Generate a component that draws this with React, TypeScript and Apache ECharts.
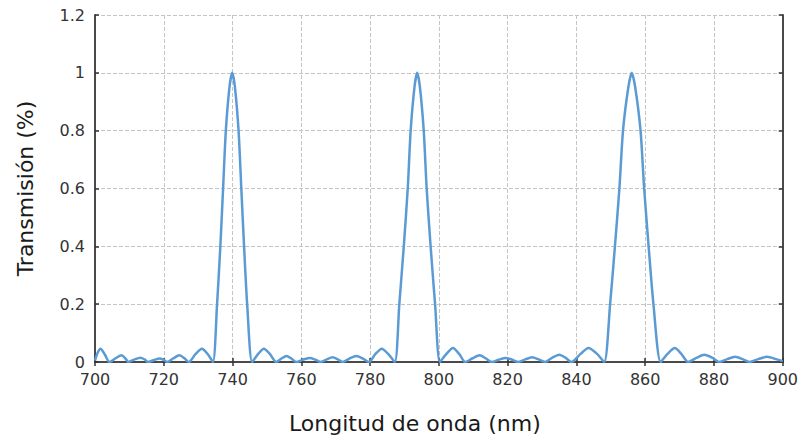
import React, { useEffect, useRef } from "react";
import * as echarts from "echarts";

const wavelength: number[] = [
  700, 700.7, 701.6, 702.9, 704.2, 706.0, 707.7, 708.8, 709.7, 711.5, 713.2, 714.4, 715.5,
  717.2, 718.8, 720.0, 721.0, 722.8, 724.6, 726.0, 727.3, 729.2, 731.1, 732.8, 734.3,
  735.5, 736.45, 737.25, 738.05, 739.1, 739.9, 740.7, 741.75, 742.55, 743.35, 744.25, 745.7,
  747.4, 749.1, 750.9, 752.7, 754.2, 755.7, 757.1, 758.5, 760.5, 762.5, 764.1, 765.7,
  767.4, 769.1, 770.6, 772.0, 774.0, 776.0, 777.9, 779.7, 781.5, 783.4, 785.3, 787.2,
  788.5, 789.8, 790.95, 791.8, 792.9, 793.7, 794.5, 795.6, 796.45, 797.6, 798.9, 800.3,
  802.2, 804.1, 805.9, 807.7, 809.8, 811.9, 813.6, 815.4, 817.4, 819.5, 821.3, 823.2,
  825.1, 827.1, 829.0, 830.9, 833.0, 835.0, 836.8, 838.6, 841.2, 843.5, 846.0, 848.1,
  849.8, 851.2, 852.5, 853.55, 855.1, 856.1, 857.1, 858.65, 859.7, 861.0, 862.4, 864.5,
  866.5, 868.6, 870.5, 872.5, 875.0, 877.2, 879.5, 881.6, 883.9, 886.2, 888.3, 890.3,
  892.9, 895.5, 898.0, 900,
];

const transmission: number[] = [
  0.005, 0.03, 0.046, 0.025, 0, 0.013, 0.023, 0.013, 0, 0.009, 0.015, 0.009, 0,
  0.007, 0.012, 0.007, 0, 0.013, 0.023, 0.013, 0, 0.027, 0.046, 0.027, 0,
  0.2, 0.4, 0.6, 0.8, 0.95, 1.0, 0.95, 0.8, 0.6, 0.4, 0.2, 0,
  0.027, 0.046, 0.027, 0, 0.012, 0.021, 0.012, 0, 0.008, 0.014, 0.008, 0,
  0.009, 0.016, 0.009, 0, 0.012, 0.021, 0.012, 0, 0.027, 0.046, 0.027, 0,
  0.2, 0.4, 0.6, 0.8, 0.95, 1.0, 0.95, 0.8, 0.6, 0.4, 0.2, 0,
  0.028, 0.048, 0.028, 0, 0.013, 0.023, 0.013, 0, 0.008, 0.014, 0.008, 0,
  0.009, 0.016, 0.009, 0, 0.015, 0.025, 0.015, 0, 0.028, 0.048, 0.028, 0,
  0.2, 0.4, 0.6, 0.8, 0.95, 1.0, 0.95, 0.8, 0.6, 0.4, 0.2, 0,
  0.028, 0.048, 0.028, 0, 0.015, 0.025, 0.015, 0, 0.01, 0.018, 0.01, 0,
  0.01, 0.018, 0.01, 0.003,
];

const xTitle = "Longitud de onda (nm)";
const yTitle = "Transmisión (%)";

const FONT = "'DejaVu Sans', Verdana, sans-serif";
const AXIS_COLOR = "#4a4a4a";
const GRID_LINE = { show: true, lineStyle: { type: "dashed", color: "#c4c4c4", width: 1 } };

export default function App() {
  const ref = useRef<HTMLDivElement>(null);
  useEffect(() => {
    document.body.style.margin = "0";
    if (!ref.current) return;
    const chart = echarts.init(ref.current, undefined, { renderer: "svg" });
    const data = wavelength.map((w, i) => [w, transmission[i]]);
    const tick = { show: true, inside: true, length: 4, lineStyle: { color: "#333333", width: 1.5 } };
    chart.setOption({
      animation: false,
      backgroundColor: "#ffffff",
      grid: {
        left: 95,
        right: 15,
        top: 15,
        bottom: 77,
        show: false,
      },
      xAxis: [
        {
          type: "value",
          min: 700,
          max: 900,
          interval: 20,
          position: "bottom",
          name: xTitle,
          nameLocation: "middle",
          nameGap: 50,
          nameTextStyle: { fontSize: 22, color: "#1a1a1a", fontFamily: FONT, padding: [0, 48, 0, 0] },
          axisLine: { show: true, lineStyle: { color: AXIS_COLOR, width: 2 } },
          axisTick: tick,
          axisLabel: { fontSize: 16, color: "#333333", fontFamily: FONT, margin: 9 },
          splitLine: GRID_LINE,
        },
        {
          type: "value",
          min: 700,
          max: 900,
          interval: 20,
          position: "top",
          axisLine: { show: true, lineStyle: { color: AXIS_COLOR, width: 2 } },
          axisTick: tick,
          axisLabel: { show: false },
          splitLine: { show: false },
        },
      ],
      yAxis: [
        {
          type: "value",
          min: 0,
          max: 1.2,
          interval: 0.2,
          position: "left",
          name: yTitle,
          nameLocation: "middle",
          nameGap: 59,
          nameTextStyle: { fontSize: 22, color: "#1a1a1a", fontFamily: FONT, padding: [0, 0, 0, 0] },
          axisLine: { show: true, lineStyle: { color: AXIS_COLOR, width: 2 } },
          axisTick: tick,
          axisLabel: { fontSize: 16, color: "#333333", fontFamily: FONT, margin: 10 },
          splitLine: GRID_LINE,
        },
        {
          type: "value",
          min: 0,
          max: 1.2,
          interval: 0.2,
          position: "right",
          axisLine: { show: true, lineStyle: { color: AXIS_COLOR, width: 2 } },
          axisTick: tick,
          axisLabel: { show: false },
          splitLine: { show: false },
        },
      ],
      series: [
        {
          type: "line",
          data,
          xAxisIndex: 0,
          yAxisIndex: 0,
          showSymbol: false,
          smooth: 0.25,
          lineStyle: { color: "#5b9bd5", width: 2.5 },
          clip: true,
        },
      ],
    });
    return () => chart.dispose();
  }, []);
  return <div ref={ref} style={{ width: 801, height: 439 }} />;
}
